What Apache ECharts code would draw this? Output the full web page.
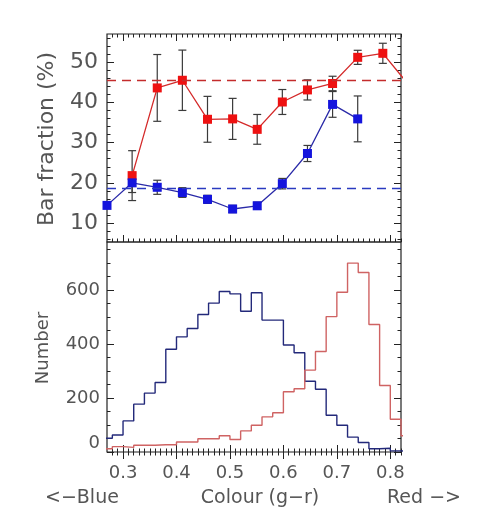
<!DOCTYPE html>
<html>
<head>
<meta charset="utf-8">
<script src="https://cdn.jsdelivr.net/npm/echarts@6/dist/echarts.min.js"></script>
<style>
html,body{margin:0;padding:0;background:#fff;}
#chart{width:478px;height:532px;}
</style>
</head>
<body>
<div id="chart"></div>
<script>
// 上图: 棒旋比例 (按颜色分箱)
var fracX    = [0.270, 0.317, 0.364, 0.411, 0.458, 0.505, 0.551, 0.598, 0.645, 0.692, 0.739, 0.786, 0.833];
var redFrac  = [null, 21.8, 43.6, 45.5, 35.8, 35.9, 33.3, 40.1, 43.1, 44.7, 51.2, 52.2, 44.6];
var redErr   = [null, 6.2, 8.3, 7.5, 5.7, 5.1, 3.7, 3.1, 2.5, 1.8, 1.75, 2.5, null];
var blueFrac = [14.4, 20.0, 18.9, 17.6, 15.9, 13.5, 14.3, 19.8, 27.3, 39.5, 35.9, null, null];
var blueErr  = [null, 2.4, 1.75, 1.2, 1.0, 0.9, 0.9, 1.3, 2.0, 3.2, 5.7, null, null];
var redMean  = 45.5;
var blueMean = 18.7;

// 下图: 直方图 (左边界, 宽 0.02)
var histEdges = [0.26, 0.28, 0.30, 0.32, 0.34, 0.36, 0.38, 0.40, 0.42, 0.44, 0.46, 0.48, 0.50, 0.52, 0.54,
                 0.56, 0.58, 0.60, 0.62, 0.64, 0.66, 0.68, 0.70, 0.72, 0.74, 0.76, 0.78, 0.80, 0.82, 0.84];
var blueHist = [51, 63, 115, 177, 218, 257, 380, 426, 457, 509, 551, 594, 585, 521, 589,
                488, 488, 396, 367, 262, 232, 136, 99, 55, 35, 12, 14, 4, 2];
var redHist  = [12, 20, 17, 25, 25, 27, 27, 37, 37, 49, 49, 60, 46, 78, 99,
                130, 145, 223, 234, 303, 372, 501, 591, 699, 664, 472, 246, 121, 60];

// 刻度
var xMajor = [0.3, 0.4, 0.5, 0.6, 0.7, 0.8];
var fracMajor = [10, 20, 30, 40, 50];
var numMajor = [0, 200, 400, 600];

function steps(a, b, d){
    var r = [];
    for (var v = a; v <= b + d / 2; v += d) r.push(Math.round(v * 1000) / 1000);
    return r;
}
var xMinor = steps(0.28, 0.82, 0.01);
var fracMinor = steps(6, 56, 2);
var numMinor = steps(0, 750, 50);

var txt = '#555';
var tickStyle = {color: '#222', width: 1};

function axisSet(g, pos, min, max, major, minor, labels){
    var list = [];
    [[major, 7], [minor, 3.5]].forEach(function(t, k){
        var a = {
            gridIndex: g, type: 'value', position: pos, min: min, max: max,
            axisLine: {show: false}, splitLine: {show: false},
            axisTick: {show: true, inside: true, length: t[1], customValues: t[0], lineStyle: tickStyle},
            axisLabel: {show: false}
        };
        if (k == 0 && labels) a.axisLabel = labels;
        list.push(a);
    });
    return list;
}

var xAxes = [], yAxes = [];
xAxes = xAxes.concat(axisSet(0, 'bottom', 0.27, 0.82, xMajor, xMinor, null));
xAxes = xAxes.concat(axisSet(0, 'top', 0.27, 0.82, xMajor, xMinor, null));
xAxes = xAxes.concat(axisSet(1, 'bottom', 0.27, 0.82, xMajor, xMinor, {
    show: true, customValues: xMajor, margin: 12, color: txt, fontSize: 18,
    fontFamily: 'DejaVu Sans', formatter: function(v){ return v.toFixed(1); }
}));
xAxes = xAxes.concat(axisSet(1, 'top', 0.27, 0.82, xMajor, xMinor, null));

yAxes = yAxes.concat(axisSet(0, 'left', 5.3, 57, fracMajor, fracMinor, {
    show: true, customValues: fracMajor, margin: 9, color: txt, fontSize: 22, fontFamily: 'DejaVu Sans'
}));
yAxes = yAxes.concat(axisSet(0, 'right', 5.3, 57, fracMajor, fracMinor, null));
yAxes = yAxes.concat(axisSet(1, 'left', 0, 777, numMajor, numMinor, {
    show: true, customValues: numMajor, margin: 7, color: txt, fontSize: 18, fontFamily: 'DejaVu Sans',
    verticalAlignMinLabel: 'bottom'
}));
yAxes = yAxes.concat(axisSet(1, 'right', 0, 777, numMajor, numMinor, null));

function pts(ys){
    var r = [];
    for (var i = 0; i < fracX.length; i++) {
        if (ys[i] != null) r.push([fracX[i], ys[i]]);
    }
    return r;
}
function errs(ys, es){
    var r = [];
    for (var i = 0; i < fracX.length; i++) {
        if (ys[i] != null && es[i] != null) r.push([fracX[i], ys[i] - es[i], ys[i] + es[i]]);
    }
    return r;
}
function hist(vals){
    var r = [];
    for (var i = 0; i < vals.length; i++) r.push([histEdges[i], vals[i]]);
    r.push([histEdges[vals.length], vals[vals.length - 1]]);
    return r;
}

function errRender(params, api){
    var x = api.value(0);
    var p1 = api.coord([x, api.value(1)]);
    var p2 = api.coord([x, api.value(2)]);
    var w = 4;
    var st = {stroke: '#3a3a3a', lineWidth: 1.2};
    return {type: 'group', children: [
        {type: 'line', shape: {x1: p1[0], y1: p1[1], x2: p2[0], y2: p2[1]}, style: st},
        {type: 'line', shape: {x1: p1[0] - w, y1: p1[1], x2: p1[0] + w, y2: p1[1]}, style: st},
        {type: 'line', shape: {x1: p2[0] - w, y1: p2[1], x2: p2[0] + w, y2: p2[1]}, style: st}
    ]};
}

function meanLine(v, c){
    return {
        silent: true, symbol: 'none', label: {show: false},
        lineStyle: {color: c, type: [9, 6], width: 1.3},
        data: [{yAxis: v}]
    };
}

var myChart = echarts.init(document.getElementById('chart'));
var option = {
    animation: false,
    backgroundColor: '#fff',
    grid: [
        {left: 107, top: 34, width: 294, height: 208, show: true, borderColor: '#222', borderWidth: 1.2},
        {left: 107, top: 242, width: 294, height: 210, show: true, borderColor: '#222', borderWidth: 1.2}
    ],
    xAxis: xAxes,
    yAxis: yAxes,
    series: [
        {type: 'custom', name: 'redErr', xAxisIndex: 0, yAxisIndex: 0, renderItem: errRender,
         data: errs(redFrac, redErr), z: 1},
        {type: 'custom', name: 'blueErr', xAxisIndex: 0, yAxisIndex: 0, renderItem: errRender,
         data: errs(blueFrac, blueErr), z: 1},
        {type: 'line', name: 'red', xAxisIndex: 0, yAxisIndex: 0, data: pts(redFrac),
         symbol: 'rect', symbolSize: 9, clip: true, z: 3,
         lineStyle: {color: '#d42a2a', width: 1.3}, itemStyle: {color: '#ee1111'},
         markLine: meanLine(redMean, '#c42c2c')},
        {type: 'line', name: 'blue', xAxisIndex: 0, yAxisIndex: 0, data: pts(blueFrac),
         symbol: 'rect', symbolSize: 9, clip: true, z: 3,
         lineStyle: {color: '#2a2aa8', width: 1.3}, itemStyle: {color: '#1414dd'},
         markLine: meanLine(blueMean, '#2a3ac0')},
        {type: 'line', name: 'blueHist', xAxisIndex: 4, yAxisIndex: 4, data: hist(blueHist),
         step: 'end', symbol: 'none', clip: true,
         lineStyle: {color: '#23297a', width: 1.4}},
        {type: 'line', name: 'redHist', xAxisIndex: 4, yAxisIndex: 4, data: hist(redHist),
         step: 'end', symbol: 'none', clip: true,
         lineStyle: {color: '#cf6363', width: 1.4}}
    ],
    graphic: [
        {type: 'text', x: 47, y: 139, rotation: Math.PI / 2,
         style: {text: 'Bar fraction (%)', fill: txt, fontSize: 22, fontFamily: 'DejaVu Sans',
                 align: 'center', verticalAlign: 'middle'}},
        {type: 'text', x: 43, y: 348, rotation: Math.PI / 2,
         style: {text: 'Number', fill: txt, fontSize: 18, fontFamily: 'DejaVu Sans',
                 align: 'center', verticalAlign: 'middle'}},
        {type: 'text', x: 260, y: 498,
         style: {text: 'Colour (g\u2212r)', fill: txt, fontSize: 19, fontFamily: 'DejaVu Sans',
                 align: 'center', verticalAlign: 'middle'}},
        {type: 'text', x: 45, y: 498,
         style: {text: '<\u2212Blue', fill: txt, fontSize: 19, fontFamily: 'DejaVu Sans',
                 align: 'left', verticalAlign: 'middle'}},
        {type: 'text', x: 461, y: 498,
         style: {text: 'Red \u2212>', fill: txt, fontSize: 19, fontFamily: 'DejaVu Sans',
                 align: 'right', verticalAlign: 'middle'}}
    ]
};
myChart.setOption(option);
</script>
</body>
</html>
